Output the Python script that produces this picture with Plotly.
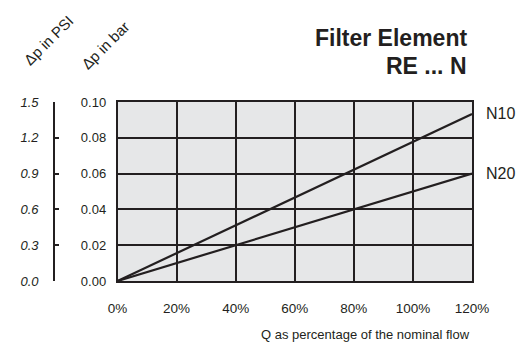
import plotly.graph_objects as go

flow_pct = [0, 120]
n10_bar = [0, 0.0933]
n20_bar = [0, 0.06]
x_ticks = [0, 20, 40, 60, 80, 100, 120]
x_ticktext = ["0%", "20%", "40%", "60%", "80%", "100%", "120%"]
bar_ticks = [0.0, 0.02, 0.04, 0.06, 0.08, 0.10]
psi_ticks = [0.0, 0.3, 0.6, 0.9, 1.2, 1.5]
BAR_TO_PSI = 14.5

INK = "#231f20"
FONT = "Liberation Sans, Arial, sans-serif"

fig = go.Figure()
fig.add_trace(go.Scatter(x=flow_pct, y=n10_bar, mode="lines",
                         line=dict(color=INK, width=2.2), showlegend=False, hoverinfo="skip"))
fig.add_trace(go.Scatter(x=flow_pct, y=n20_bar, mode="lines",
                         line=dict(color=INK, width=2.2), showlegend=False, hoverinfo="skip"))
# invisible trace on PSI axis so it is drawn
fig.add_trace(go.Scatter(x=flow_pct, y=[v * BAR_TO_PSI for v in n20_bar], yaxis="y2",
                         mode="lines", line=dict(width=0), opacity=0,
                         showlegend=False, hoverinfo="skip"))

# page body has an 8px margin; work in page pixel coordinates
OFF = 8
W, H = 526 - OFF, 343 - OFF
PL, PR, PT, PB = 110, 472, 102, 281  # plot box in page pixels
ml = 40 - OFF
mt = PT - OFF
mb = H - (PB - OFF)
mr = W - (PR - OFF)
pw = W - ml - mr
ph = H - mt - mb

def px_x(p):
    return (p - OFF - ml) / pw

def px_y(p):
    return (PB - p) / ph

fig.update_layout(
    width=W, height=H,
    margin=dict(l=ml, r=mr, t=mt, b=mb, pad=0),
    paper_bgcolor="white",
    plot_bgcolor="#e6e7e8",
    font=dict(family=FONT, color=INK, size=13),
    xaxis=dict(domain=[px_x(PL), 1], range=[0, 120], tickvals=x_ticks, ticktext=x_ticktext,
               showgrid=True, gridcolor=INK, gridwidth=1.6, zeroline=False,
               showline=True, linecolor=INK, linewidth=1.6, mirror=True,
               ticks="", ticklabelstandoff=14, tickfont=dict(size=13.5)),
    yaxis=dict(range=[0, 0.1], tickvals=bar_ticks, tickformat=".2f",
               showgrid=True, gridcolor=INK, gridwidth=1.6, zeroline=False,
               showline=True, linecolor=INK, linewidth=1.6, mirror=True,
               ticks="", ticklabelstandoff=7, tickfont=dict(size=13)),
    yaxis2=dict(range=[0, 1.5], tickvals=psi_ticks, tickformat=".1f",
                overlaying="y", anchor="free", position=px_x(45), side="left",
                showgrid=False, zeroline=False, showline=True, linecolor=INK, linewidth=1.6,
                ticks="inside", ticklen=4, tickwidth=1.6, tickcolor=INK,
                ticklabelstandoff=12, tickfont=dict(size=13, style="italic")),
)

ann = [
    dict(text="<b>Filter Element</b>", x=px_x(469), y=px_y(38.5), xanchor="right", yanchor="middle",
         font=dict(size=23)),
    dict(text="<b>RE ... N</b>", x=px_x(469), y=px_y(66), xanchor="right", yanchor="middle",
         font=dict(size=23)),
    dict(text="N10", x=px_x(484), xref="paper", y=n10_bar[-1], yref="y", xanchor="left",
         yanchor="middle", font=dict(size=16)),
    dict(text="N20", x=px_x(484), xref="paper", y=n20_bar[-1], yref="y", xanchor="left",
         yanchor="middle", font=dict(size=16)),
    dict(text="Q as percentage of the nominal flow", x=120, xref="x", y=px_y(334),
         xanchor="right", yanchor="middle", font=dict(size=13)),
    dict(text="Δp in PSI", x=px_x(39), y=px_y(40), textangle=-45,
         xanchor="center", yanchor="middle", font=dict(size=15)),
    dict(text="Δp in bar", x=px_x(97), y=px_y(45), textangle=-45,
         xanchor="center", yanchor="middle", font=dict(size=15)),
]
for a in ann:
    a.setdefault("xref", "paper")
    a.setdefault("yref", "paper")
    a["showarrow"] = False
fig.update_layout(annotations=ann)

fig.write_html("out.html")
